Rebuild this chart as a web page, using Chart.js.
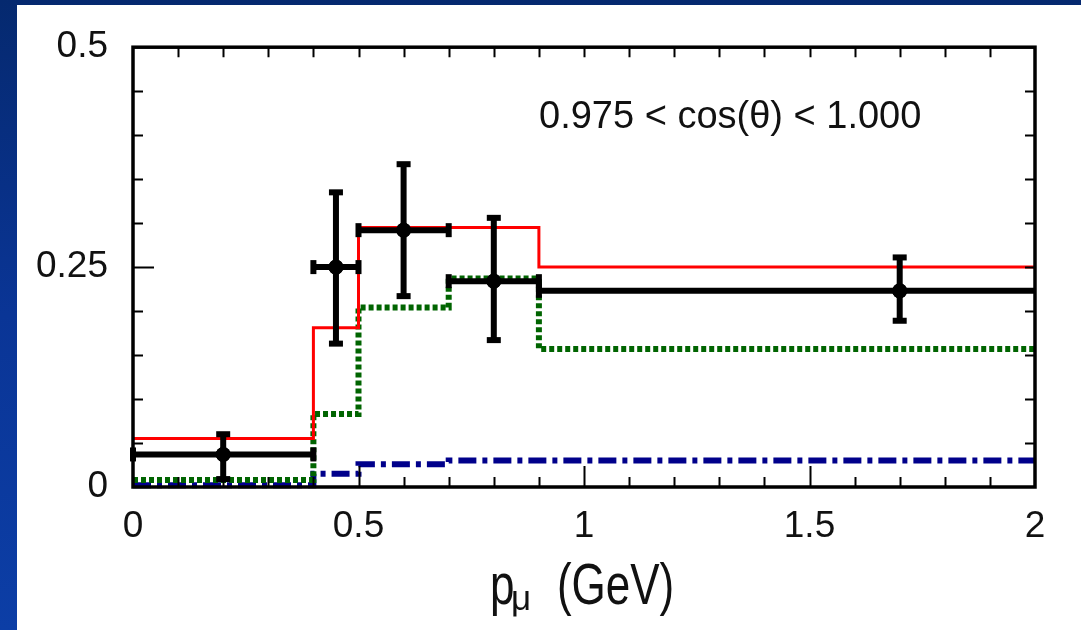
<!DOCTYPE html>
<html>
<head>
<meta charset="utf-8">
<script src="https://cdn.jsdelivr.net/npm/chart.js@4.4.1/dist/chart.umd.min.js"></script>
<style>
  html, body { margin: 0; padding: 0; }
  body {
    width: 1081px; height: 630px; overflow: hidden; position: relative;
    background: linear-gradient(180deg, #05296f 0%, #0a3596 50%, #0c3ea6 100%);
  }
  #panel { position: absolute; left: 17px; top: 5px; right: 0; bottom: 0; background: #fff; }
  #wrap { position: absolute; left: 0; top: 0; width: 1081px; height: 630px; }
</style>
</head>
<body>
<div id="panel"></div>
<div id="wrap"><canvas id="muonChart"></canvas></div>
<script>
// Momentum bins (GeV) shared by the histograms and the data points
const binEdges = [0, 0.4, 0.5, 0.7, 0.9, 2.0];

// Prediction histograms, one value per bin
const totalVals = [0.055, 0.181, 0.295, 0.295, 0.250];
const greenVals = [0.008, 0.083, 0.204, 0.237, 0.157];
const blueVals  = [0.002, 0.015, 0.026, 0.030, 0.030];

// Measured points with errors
const ptX  = [0.2, 0.45, 0.6, 0.8, 1.7];
const ptY  = [0.037, 0.250, 0.292, 0.234, 0.223];
const ptYLo = [0.009, 0.163, 0.217, 0.167, 0.189];
const ptYHi = [0.060, 0.335, 0.367, 0.306, 0.261];
const ptXLo = [0, 0.4, 0.5, 0.7, 0.9];
const ptXHi = [0.4, 0.5, 0.7, 0.9, 2.0];

// Axis labels
const xTickLabels = [0, 0.5, 1, 1.5, 2];
const yTickLabels = [0, 0.25, 0.5];

const FONT = "'Liberation Sans', Arial, sans-serif";
const INK = '#111';

function stepPoints(vals) {
    const pts = vals.map((v, i) => ({ x: binEdges[i], y: v }));
    pts.push({ x: binEdges[binEdges.length - 1], y: vals[vals.length - 1] });
    return pts;
}

// Error bars with end caps, drawn through the chart scales
const errorBars = {
    id: 'errorBars',
    afterDatasetsDraw(chart) {
        const { ctx, scales: { x, y } } = chart;
        ctx.save();
        ctx.strokeStyle = '#000';
        ctx.fillStyle = '#000';
        ctx.lineWidth = 6;
        for (let i = 0; i < ptX.length; i++) {
            const px = x.getPixelForValue(ptX[i]);
            const py = y.getPixelForValue(ptY[i]);
            const xl = x.getPixelForValue(ptXLo[i]);
            const xh = x.getPixelForValue(ptXHi[i]);
            const yl = y.getPixelForValue(ptYLo[i]);
            const yh = y.getPixelForValue(ptYHi[i]);
            ctx.beginPath();
            ctx.moveTo(xl, py); ctx.lineTo(xh, py);
            ctx.moveTo(px, yl); ctx.lineTo(px, yh);
            ctx.stroke();
            // caps
            ctx.fillRect(px - 7, yh - 3, 14, 6);
            ctx.fillRect(px - 7, yl - 3, 14, 6);
            ctx.fillRect(xl - 3, py - 7, 6, 14);
            if (ptXHi[i] < 2) ctx.fillRect(xh - 3, py - 7, 6, 14);
            // centre dot
            ctx.beginPath();
            ctx.arc(px, py, 7.5, 0, Math.PI * 2);
            ctx.fill();
        }
        ctx.restore();
    }
};

// Box frame with inward ticks, plus the bin label and axis title
const frameAndText = {
    id: 'frameAndText',
    afterDraw(chart) {
        const { ctx, chartArea: a, scales: { x, y } } = chart;
        ctx.save();
        ctx.strokeStyle = '#000';
        ctx.lineWidth = 2;
        ctx.beginPath();
        for (let i = 1; i < 20; i++) {
            const v = i / 10;
            const len = (i % 5 === 0) ? 21 : 10;
            const px = Math.round(x.getPixelForValue(v)) + 0.5;
            ctx.moveTo(px, a.bottom); ctx.lineTo(px, a.bottom - len);
            ctx.moveTo(px, a.top); ctx.lineTo(px, a.top + 10);
        }
        for (let i = 1; i < 10; i++) {
            const v = i * 0.05;
            const len = (i === 5) ? 21 : 10;
            const py = Math.round(y.getPixelForValue(v)) + 0.5;
            ctx.moveTo(a.left, py); ctx.lineTo(a.left + len, py);
            ctx.moveTo(a.right, py); ctx.lineTo(a.right - 10, py);
        }
        ctx.stroke();

        ctx.lineWidth = 3.5;
        ctx.strokeRect(a.left, a.top, a.right - a.left, a.bottom - a.top);

        ctx.fillStyle = INK;
        ctx.textBaseline = 'alphabetic';
        ctx.textAlign = 'left';
        ctx.font = '38px ' + FONT;
        ctx.fillText('0.975 < cos(\u03b8) < 1.000', a.left + 406, a.top + 81);

        // axis title: p with subscript mu, then the unit
        ctx.font = '35px ' + FONT;
        ctx.fillText('\u03bc', 511, 610);
        ctx.translate(490, 604);
        ctx.scale(0.88, 1.15);
        ctx.font = '50px ' + FONT;
        ctx.fillText('p', 0, 0);
        ctx.fillText('(GeV)', 76, 0);
        ctx.restore();
    }
};

const lineStyle = { pointRadius: 0, fill: false, stepped: true, clip: false, borderCapStyle: 'butt' };

new Chart(document.getElementById('muonChart'), {
    type: 'scatter',
    data: {
        datasets: [
            Object.assign({
                type: 'line', label: 'total', data: stepPoints(totalVals),
                borderColor: '#ff0000', borderWidth: 3
            }, lineStyle),
            Object.assign({
                type: 'line', label: 'green', data: stepPoints(greenVals),
                borderColor: '#006400', borderWidth: 6, borderDash: [5, 3]
            }, lineStyle),
            Object.assign({
                type: 'line', label: 'blue', data: stepPoints(blueVals),
                borderColor: '#00008b', borderWidth: 6, borderDash: [18, 6, 5, 6]
            }, lineStyle),
            {
                label: 'data',
                data: ptX.map((v, i) => ({ x: v, y: ptY[i] })),
                pointRadius: 7, pointBackgroundColor: '#000', pointBorderColor: '#000',
                clip: false
            }
        ]
    },
    options: {
        responsive: true,
        maintainAspectRatio: false,
        animation: false,
        devicePixelRatio: 1,
        layout: { padding: { top: 39, right: 46, left: 0, bottom: 0 } },
        plugins: { legend: { display: false }, tooltip: { enabled: false } },
        scales: {
            x: {
                type: 'linear', min: 0, max: 2,
                grid: { display: false, drawTicks: false },
                border: { display: false },
                afterBuildTicks(axis) { axis.ticks = xTickLabels.map(v => ({ value: v })); },
                afterFit(axis) { axis.height = 143; },
                ticks: {
                    padding: 18, color: INK, maxRotation: 0,
                    font: { family: FONT, size: 37 },
                    callback: v => String(v)
                }
            },
            y: {
                type: 'linear', min: 0, max: 0.5,
                grid: { display: false, drawTicks: false },
                border: { display: false },
                afterBuildTicks(axis) { axis.ticks = yTickLabels.map(v => ({ value: v })); },
                afterFit(axis) { axis.width = 133; },
                ticks: {
                    padding: 25, color: INK,
                    font: { family: FONT, size: 37 },
                    callback: v => String(v)
                }
            }
        }
    },
    plugins: [errorBars, frameAndText]
});
</script>
</body>
</html>
